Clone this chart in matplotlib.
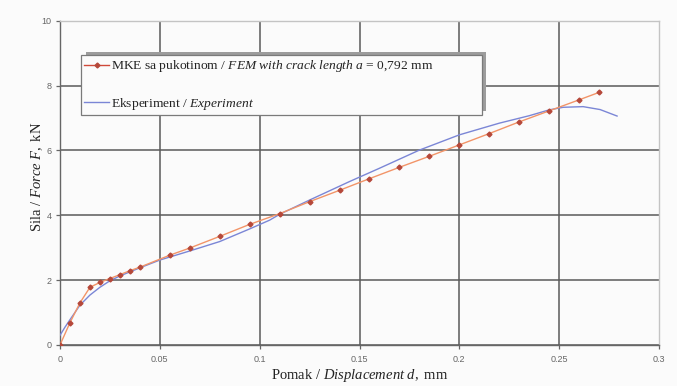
#!/usr/bin/env python3
"""Force-displacement curve: FEM with crack vs. experiment."""

import matplotlib

matplotlib.use("Agg")
import matplotlib.pyplot as plt  # noqa: E402
from matplotlib.lines import Line2D  # noqa: E402
from matplotlib.patches import Rectangle  # noqa: E402

# FEM (MKE) with crack length a = 0.792 mm
FEM_D = [0.0, 0.005, 0.01, 0.015, 0.02, 0.025, 0.03, 0.035, 0.04, 0.055,
         0.065, 0.08, 0.095, 0.11, 0.125, 0.14, 0.155, 0.17, 0.185, 0.2,
         0.215, 0.23, 0.245, 0.26, 0.27]
FEM_F = [0.0, 0.69, 1.30, 1.78, 1.93, 2.05, 2.17, 2.29, 2.40, 2.77,
         2.99, 3.35, 3.72, 4.05, 4.42, 4.77, 5.13, 5.48, 5.82, 6.17,
         6.52, 6.88, 7.22, 7.56, 7.79]

# Experiment
EXP_D = [0.0, 0.0025, 0.005, 0.01, 0.015, 0.02, 0.025, 0.03, 0.04, 0.05,
         0.065, 0.08, 0.095, 0.105, 0.11, 0.125, 0.145, 0.16, 0.18, 0.2,
         0.22, 0.235, 0.245, 0.252, 0.262, 0.2705, 0.279]
EXP_F = [0.30, 0.55, 0.78, 1.23, 1.54, 1.78, 1.98, 2.13, 2.38, 2.62,
         2.90, 3.19, 3.58, 3.85, 4.03, 4.47, 5.04, 5.45, 6.01, 6.48,
         6.84, 7.07, 7.25, 7.33, 7.35, 7.26, 7.06]

X_TICKS = [0.0, 0.05, 0.1, 0.15, 0.2, 0.25, 0.3]
X_TICK_LABELS = ["0", "0.05", "0.1", "0.15", "0.2", "0.25", "0.3"]
Y_TICKS = [0, 2, 4, 6, 8, 10]
Y_TICK_LABELS = ["0", "2", "4", "6", "8", "10"]

FEM_LABEL = r"MKE sa pukotinom / $\mathit{FEM\ with\ crack\ length\ a}$ = 0,792 mm"
EXP_LABEL = r"Eksperiment / $\mathit{Experiment}$"
X_LABEL = r"Pomak / $\mathit{Displacement\ d},$ mm"
Y_LABEL = r"Sila / $\mathit{Force\ F},$ kN"


def main() -> None:
    plt.rcParams.update(
        {
            "font.family": "serif",
            "font.serif": ["Liberation Serif", "DejaVu Serif"],
            "mathtext.fontset": "custom",
            "mathtext.rm": "Liberation Serif",
            "mathtext.it": "Liberation Serif:italic",
        }
    )

    bg = "#fbfbfb"
    fig = plt.figure(figsize=(6.77, 3.86), dpi=100, facecolor=bg)
    ax = fig.add_axes([60 / 677, 41 / 386, 599 / 677, 324.3 / 386])
    ax.set_facecolor(bg)

    ax.plot(EXP_D, EXP_F, color="#7b86d6", linewidth=1.0, zorder=3)
    ax.plot(FEM_D, FEM_F, color="#f29468", linewidth=1.0, marker="D",
            markersize=2.5, markerfacecolor="#b5483a",
            markeredgecolor="#b5483a", zorder=4)

    ax.set_xlim(0, 0.3)
    ax.set_ylim(0, 10)
    ax.set_xticks(X_TICKS, X_TICK_LABELS)
    ax.set_yticks(Y_TICKS, Y_TICK_LABELS)
    for lab in ax.get_xticklabels() + ax.get_yticklabels():
        lab.set_family("Liberation Sans")
    ax.tick_params(axis="both", labelsize=6.5, labelcolor="#666666",
                   color="#666666", length=3, width=0.9, direction="out")
    ax.tick_params(axis="x", pad=4)
    ax.tick_params(axis="y", pad=3)

    ax.grid(True, color="#5a5a5a", linewidth=1.1, zorder=1)
    ax.set_axisbelow(True)
    ax.xaxis.get_gridlines()[-1].set_visible(False)
    ax.yaxis.get_gridlines()[-1].set_visible(False)

    for side in ("left", "bottom"):
        ax.spines[side].set_color("#666666")
        ax.spines[side].set_linewidth(1.0)
    for side in ("right", "top"):
        ax.spines[side].set_color("#c4c4c4")
        ax.spines[side].set_linewidth(1.0)

    ax.set_xlabel(X_LABEL, fontsize=10.5, color="#222222", labelpad=2)
    ax.set_ylabel(Y_LABEL, fontsize=10.5, color="#222222")
    ax.yaxis.set_label_coords(-0.025, 0.52)

    handles = [
        Line2D([], [], color="#d04a3a", linewidth=1.0, marker="D",
               markersize=2.5, markerfacecolor="#b5483a",
               markeredgecolor="#b5483a"),
        Line2D([], [], color="#7b86d6", linewidth=1.0),
    ]
    # shadow of the legend box (offset up and right)
    ax.add_patch(Rectangle((86 / 677, (386 - 111) / 386), 400 / 677, 59 / 386,
                           transform=fig.transFigure, facecolor="#9c9c9c",
                           edgecolor="none", clip_on=False, zorder=6))
    leg = ax.legend(
        handles,
        [FEM_LABEL, EXP_LABEL],
        loc="upper left",
        bbox_to_anchor=(81 / 677, (386 - 115) / 386, 401 / 677, 60 / 386),
        bbox_transform=fig.transFigure,
        mode="expand",
        fontsize=9.7,
        frameon=True,
        fancybox=False,
        framealpha=1.0,
        borderaxespad=0.0,
        borderpad=0.25,
        labelspacing=1.6,
        handlelength=1.85,
        handletextpad=0.1,
    )
    leg.set_zorder(7)
    leg.get_frame().set_facecolor(bg)
    leg.get_frame().set_edgecolor("#7a7a7a")
    leg.get_frame().set_linewidth(0.9)
    for t in leg.get_texts():
        t.set_color("#222222")

    fig.savefig("out.png", dpi=100, facecolor=bg)
    plt.close(fig)


if __name__ == "__main__":
    main()
